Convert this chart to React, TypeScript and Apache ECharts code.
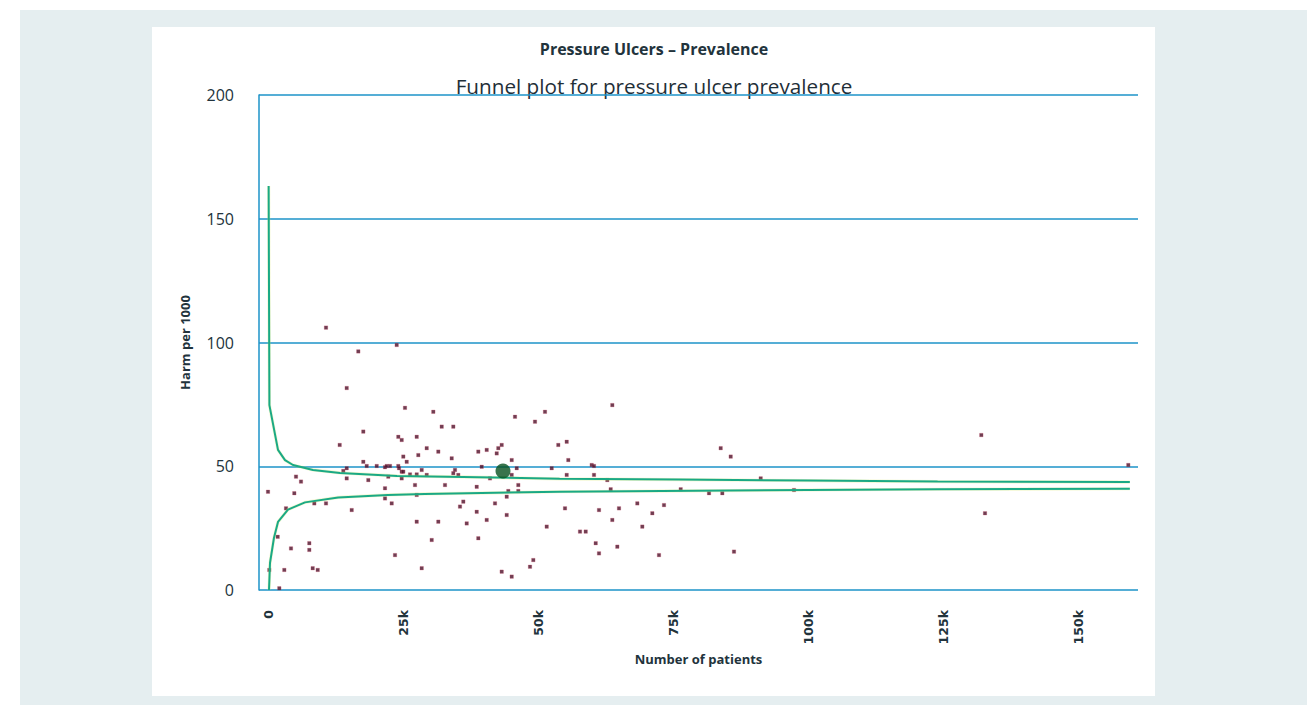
import React, { useEffect, useRef } from "react";
import * as echarts from "echarts";

const mainTitle = "Pressure Ulcers – Prevalence";
const subTitle = "Funnel plot for pressure ulcer prevalence";
const xAxisName = "Number of patients";
const yAxisName = "Harm per 1000";
const xTickValues = [0, 25000, 50000, 75000, 100000, 125000, 150000];

// [number of patients, harm per 1000]
const providers: number[][] = [
  [10741, 106.0], [23833, 99.0], [16722, 96.4], [14574, 81.6], [25370, 73.6],
  [17648, 64.0], [24130, 61.9], [24759, 60.6], [27537, 61.9], [13278, 58.6],
  [25056, 53.9], [27833, 54.5], [17648, 51.8], [25685, 51.8], [18278, 50.1],
  [20130, 50.1], [21667, 49.6], [21981, 50.1], [22593, 50.1], [24130, 50.1],
  [24259, 49.2], [14574, 49.2], [13944, 48.1], [24759, 47.8], [25056, 47.8],
  [26296, 46.7], [27537, 46.7], [28463, 48.5], [22278, 45.8], [5185, 45.8],
  [6111, 43.8], [14574, 45.1], [18574, 44.4], [24759, 45.1], [27222, 42.4],
  [0, 39.7], [4870, 39.1], [21667, 41.1], [21667, 37.0], [22907, 35.0],
  [27537, 38.4], [8574, 35.0], [10741, 35.0], [3333, 33.0], [15500, 32.3],
  [27537, 27.6], [1796, 21.5], [4259, 16.8], [7648, 18.9], [7648, 16.2],
  [23519, 14.1], [241, 8.1], [3019, 8.1], [8278, 8.8], [9204, 8.1],
  [28463, 8.8], [2093, 0.7],
  [30611, 72.0], [32167, 66.0], [34315, 66.0], [45741, 70.0], [49444, 68.0],
  [51296, 72.0], [29389, 57.3], [31537, 55.9], [38944, 55.9], [40500, 56.6],
  [42648, 57.3], [43278, 58.6], [42352, 55.2], [34019, 53.2], [53759, 58.6],
  [55315, 59.9], [55611, 52.5], [45130, 52.5], [39574, 49.8], [46056, 49.2],
  [34630, 48.5], [34315, 47.2], [35241, 46.5], [29389, 46.5], [45130, 46.5],
  [41111, 45.1], [52537, 49.2], [55315, 46.5], [32778, 42.4], [38648, 41.7],
  [46352, 42.4], [44500, 40.0], [46352, 40.0], [44204, 37.7], [36167, 35.7],
  [35556, 33.7], [42037, 35.0], [38648, 31.6], [40500, 28.3], [44204, 30.3],
  [31537, 27.6], [36796, 26.9], [55000, 33.0], [51611, 25.6], [57778, 23.6],
  [58833, 23.6], [30315, 20.2], [38944, 20.9], [49130, 12.1], [48519, 9.4],
  [43278, 7.4], [45130, 5.4],
  [63759, 74.7], [83833, 57.3], [85685, 53.9], [59944, 50.5], [60370, 50.1],
  [60370, 46.5], [62833, 44.4], [91241, 45.1], [63463, 40.7], [76426, 40.7],
  [81667, 39.1], [84130, 39.1], [97407, 40.4], [61296, 32.3], [65000, 33.0],
  [68389, 35.0], [73333, 34.3], [71167, 31.0], [63759, 28.3], [69315, 25.6],
  [60685, 18.9], [64685, 17.5], [61296, 14.8], [72407, 14.1], [86296, 15.5],
  [132093, 62.6], [159315, 50.5], [132778, 31.0],
];

const nationalPoint: number[][] = [[43518, 48.1]];

const upperLimit: number[][] = [
  [120, 163.2], [260, 74.7], [1850, 56.6], [3150, 52.5], [4630, 50.5],
  [8330, 48.5], [13330, 47.3], [23900, 46.1], [36100, 45.7], [54000, 44.9],
  [76000, 44.6], [100000, 44.2], [124000, 43.8], [159600, 43.6],
];

const lowerLimit: number[][] = [
  [185, 0], [370, 10.9], [1100, 21.0], [1850, 27.5], [3700, 32.5],
  [6850, 35.4], [13000, 37.4], [22200, 38.4], [29000, 38.8], [54000, 39.7],
  [100000, 40.4], [124000, 40.7], [159600, 40.9],
];

const FONT = "'Open Sans', Lato, sans-serif";
const TICK_FONT = "'DejaVu Sans', 'Open Sans', sans-serif";
const TEXT = "#22333c";
const BLUE = "#1c93c9";
const GREEN = "#1aa985";
const LIME = "rgba(214,228,100,0.3)";

function formatK(v: number) {
  return v === 0 ? "0" : `${Math.round(v / 1000)}k`;
}

function limitSeries(name: string, data: number[][], color: string, width: number, z: number) {
  return {
    name,
    type: "line",
    data,
    showSymbol: false,
    symbol: "none",
    silent: true,
    lineStyle: { color, width },
    z,
  };
}

export default function App() {
  const ref = useRef<HTMLDivElement>(null);

  useEffect(() => {
    if (!ref.current) return;
    const chart = echarts.init(ref.current, undefined, { renderer: "svg" });
    chart.setOption({
      animation: false,
      backgroundColor: "transparent",
      textStyle: { fontFamily: FONT },
      graphic: [
        {
          type: "text",
          x: 654,
          y: 49,
          style: {
            text: mainTitle,
            fontFamily: FONT,
            fontSize: 16,
            fontWeight: "bold",
            fill: TEXT,
            textAlign: "center",
            textVerticalAlign: "middle",
          },
        },
        {
          type: "text",
          x: 654,
          y: 86,
          style: {
            text: subTitle,
            fontFamily: FONT,
            fontSize: 20.7,
            fontWeight: 500,
            fill: "#1f2f38",
            textAlign: "center",
            textVerticalAlign: "middle",
          },
        },
      ],
      grid: { left: 259, right: 177, top: 95, bottom: 115, containLabel: false },
      xAxis: {
        type: "value",
        min: -1667,
        max: 161111,
        name: xAxisName,
        nameLocation: "middle",
        nameGap: 62,
        nameMoveOverlap: false,
        nameTextStyle: { fontFamily: FONT, fontSize: 13, fontWeight: "bold", color: TEXT },
        axisLine: { show: false, onZero: false },
        axisTick: { show: false },
        splitLine: { show: false },
        axisLabel: {
          customValues: xTickValues,
          rotate: 90,
          margin: 20,
          fontFamily: TICK_FONT,
          fontSize: 12.5,
          fontWeight: "bold",
          color: TEXT,
          formatter: (v: number) => formatK(v),
        },
      },
      yAxis: {
        type: "value",
        min: 0,
        max: 200,
        interval: 50,
        name: yAxisName,
        nameLocation: "middle",
        nameGap: 68,
        nameMoveOverlap: false,
        nameTextStyle: { fontFamily: FONT, fontSize: 13, fontWeight: "bold", color: TEXT },
        axisLine: { show: true, onZero: false, lineStyle: { color: BLUE, width: 1.5 } },
        axisTick: { show: false },
        axisLabel: { margin: 25, fontFamily: FONT, fontSize: 16, color: TEXT },
        splitLine: { show: true, lineStyle: { color: BLUE, width: 1.5 } },
      },
      series: [
        {
          name: "Providers",
          type: "scatter",
          data: providers,
          symbol: "rect",
          symbolSize: 3.5,
          itemStyle: { color: "#4a0f28", borderColor: "rgba(210,80,110,0.55)", borderWidth: 0.6 },
          z: 2,
        },
        limitSeries("Upper limit halo", upperLimit, LIME, 3.2, 3),
        limitSeries("Lower limit halo", lowerLimit, LIME, 3.2, 3),
        limitSeries("Upper limit", upperLimit, GREEN, 2, 4),
        limitSeries("Lower limit", lowerLimit, GREEN, 2, 4),
        {
          name: "National",
          type: "scatter",
          data: nationalPoint,
          symbol: "circle",
          symbolSize: 15,
          itemStyle: { color: "#07511f" },
          z: 5,
        },
      ],
    });
    return () => chart.dispose();
  }, []);

  return (
    <div style={{ position: "fixed", left: 0, top: 0, width: 1315, height: 705, background: "#ffffff" }}>
      <div style={{ position: "absolute", left: 20, top: 10, width: 1287, height: 695, background: "#e5eef0" }} />
      <div style={{ position: "absolute", left: 152, top: 27, width: 1003, height: 669, background: "#ffffff" }} />
      <div ref={ref} style={{ position: "absolute", left: 0, top: 0, width: 1315, height: 705 }} />
    </div>
  );
}
